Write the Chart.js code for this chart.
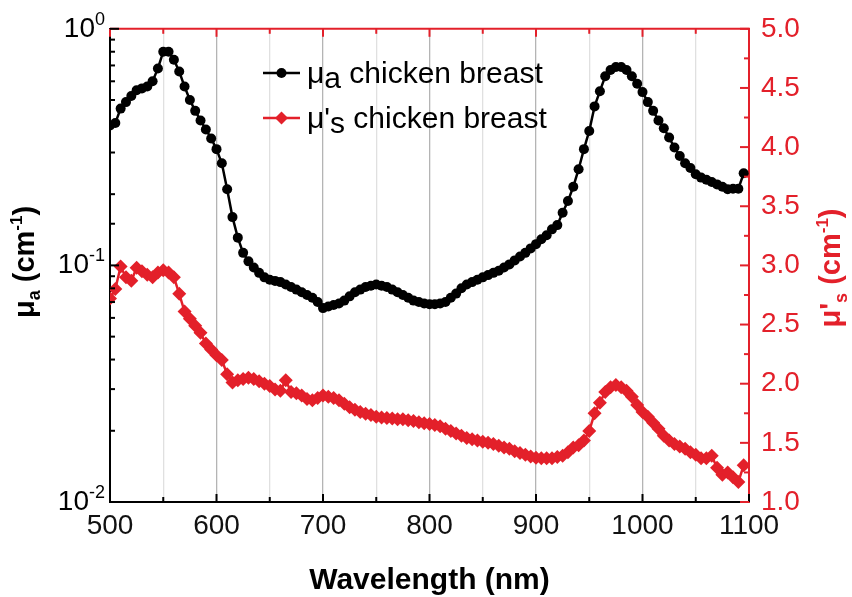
<!DOCTYPE html>
<html>
<head>
<meta charset="utf-8">
<script src="https://cdn.jsdelivr.net/npm/chart.js@4/dist/chart.umd.min.js"></script>
<style>
  body { margin: 0; background: #fff; }
  canvas { display: block; }
</style>
</head>
<body>
<canvas id="myChart" width="852" height="597"></canvas>
<script>
var wavelength = [500,505,510,515,520,525,530,535,540,545,550,555,560,565,570,575,580,585,590,595,
  600,605,610,615,620,625,630,635,640,645,650,655,660,665,670,675,680,685,690,695,
  700,705,710,715,720,725,730,735,740,745,750,755,760,765,770,775,780,785,790,795,
  800,805,810,815,820,825,830,835,840,845,850,855,860,865,870,875,880,885,890,895,
  900,905,910,915,920,925,930,935,940,945,950,955,960,965,970,975,980,985,990,995,
  1000,1005,1010,1015,1020,1025,1030,1035,1040,1045,1050,1055,1060,1065,1070,1075,1080,1085,1090,1095];

// absorption coefficient, cm-1 (left, log axis)
var muA = [0.39,0.40,0.46,0.49,0.52,0.55,0.56,0.57,0.60,0.68,0.80,0.80,0.74,0.66,0.57,0.50,0.45,0.41,0.375,0.344,
  0.31,0.27,0.21,0.16,0.131,0.113,0.104,0.098,0.093,0.089,0.087,0.086,0.085,0.083,0.081,0.079,0.077,0.075,0.073,0.070,
  0.066,0.067,0.068,0.069,0.071,0.074,0.077,0.079,0.081,0.082,0.083,0.082,0.081,0.079,0.077,0.075,0.073,0.071,0.070,0.069,
  0.0686,0.0686,0.069,0.070,0.073,0.076,0.080,0.083,0.085,0.087,0.089,0.091,0.093,0.095,0.098,0.101,0.105,0.109,0.113,0.118,
  0.123,0.129,0.134,0.142,0.148,0.167,0.187,0.215,0.255,0.31,0.37,0.47,0.545,0.63,0.67,0.69,0.69,0.67,0.63,0.586,
  0.54,0.49,0.45,0.41,0.38,0.347,0.315,0.29,0.27,0.258,0.243,0.235,0.23,0.225,0.22,0.215,0.21,0.211,0.211,0.245];

// reduced scattering coefficient, cm-1 (right axis)
var muS = [2.72,2.80,2.99,2.90,2.87,2.98,2.95,2.92,2.90,2.94,2.96,2.94,2.90,2.76,2.61,2.55,2.49,2.43,2.34,2.29,
  2.24,2.20,2.08,2.01,2.03,2.04,2.05,2.04,2.02,2.00,1.98,1.95,1.94,2.03,1.93,1.92,1.90,1.87,1.86,1.88,
  1.90,1.89,1.88,1.86,1.83,1.80,1.78,1.76,1.745,1.735,1.72,1.715,1.71,1.705,1.70,1.70,1.69,1.685,1.675,1.665,
  1.66,1.65,1.64,1.62,1.60,1.58,1.56,1.54,1.53,1.52,1.51,1.50,1.49,1.475,1.46,1.45,1.43,1.415,1.40,1.385,
  1.375,1.37,1.37,1.37,1.38,1.39,1.42,1.46,1.48,1.52,1.60,1.75,1.84,1.93,1.97,1.99,1.97,1.94,1.89,1.82,
  1.76,1.72,1.67,1.62,1.56,1.52,1.49,1.47,1.45,1.42,1.40,1.37,1.37,1.39,1.29,1.23,1.25,1.21,1.17,1.31];

var muATicks = [1, 0.1, 0.01];
var muAExp = ['0', '-1', '-2'];

var RED = '#e3202a';
var FONT = "'Liberation Sans', Arial, sans-serif";

function rich(ctx, segs, x, y, align)
{
    var w = 0;
    segs.forEach(function(s) {
        ctx.font = s[2] + ' ' + s[1] + 'px ' + FONT;
        w += ctx.measureText(s[0]).width;
    });
    var cx = align == 'center' ? x - w/2 : (align == 'right' ? x - w : x);
    segs.forEach(function(s) {
        ctx.font = s[2] + ' ' + s[1] + 'px ' + FONT;
        ctx.fillText(s[0], cx, y + s[3]);
        cx += ctx.measureText(s[0]).width;
    });
}

function seg(ctx, x1, y1, x2, y2, col, lw)
{
    ctx.strokeStyle = col;
    ctx.lineWidth = lw || 2;
    ctx.beginPath();
    ctx.moveTo(x1, y1);
    ctx.lineTo(x2, y2);
    ctx.stroke();
}

var decor = {
    id: 'decor',
    afterDraw: function(chart)
    {
        var ctx = chart.ctx, a = chart.chartArea;
        var x = chart.scales.x, y = chart.scales.y, y2 = chart.scales.y2;
        ctx.save();
        ctx.textBaseline = 'alphabetic';
        ctx.textAlign = 'left';

        // top frame line is red
        seg(ctx, a.left, a.top, a.right + 1, a.top, RED, 2);

        // inward ticks
        x.ticks.forEach(function(t) {
            var px = x.getPixelForValue(t.value);
            var len = t.value % 100 == 0 ? 8 : 5;
            seg(ctx, px, a.bottom, px, a.bottom - len, '#000', 2);
            seg(ctx, px, a.top, px, a.top + len, RED, 2);
        });
        y.ticks.forEach(function(t) {
            var py = y.getPixelForValue(t.value);
            var l = Math.log10(t.value);
            var major = Math.abs(l - Math.round(l)) < 1e-6;
            seg(ctx, a.left, py, a.left + (major ? 9 : 5), py, '#000', 2);
        });
        y2.ticks.forEach(function(t) {
            var py = y2.getPixelForValue(t.value);
            var major = Math.abs(t.value*2 - Math.round(t.value*2)) < 1e-6;
            seg(ctx, a.right, py, a.right - (major ? 9 : 5), py, RED, 2);
        });

        // left tick labels 10^n
        ctx.fillStyle = '#000';
        muATicks.forEach(function(v, i) {
            var py = y.getPixelForValue(v);
            rich(ctx, [['10', 28, 'normal', 0], [muAExp[i], 18, 'normal', -12]], 105, py + 8, 'right');
        });

        // axis titles
        ctx.fillStyle = '#000';
        rich(ctx, [['Wavelength (nm)', 30, 'bold', 0]], (a.left + a.right)/2, 589, 'center');

        ctx.save();
        ctx.translate(14, 262);
        ctx.rotate(-Math.PI/2);
        rich(ctx, [['\u03bc', 29, 'bold', 0], ['a', 18, 'bold', 6], [' (cm', 29, 'bold', 0],
                   ['-1', 17, 'bold', -12], [')', 29, 'bold', 0]], 0, 20, 'center');
        ctx.restore();

        ctx.save();
        ctx.fillStyle = RED;
        ctx.translate(820, 268);
        ctx.rotate(-Math.PI/2);
        rich(ctx, [['\u03bc', 29, 'bold', 0], ["'", 29, 'bold', 0], ['s', 18, 'bold', 7], [' (cm', 29, 'bold', 0],
                   ['-1', 17, 'bold', -12], [')', 29, 'bold', 0]], 0, 20, 'center');
        ctx.restore();

        // legend
        var ly = [73, 118];
        seg(ctx, 263, ly[0], 300, ly[0], '#000', 2.5);
        ctx.fillStyle = '#000';
        ctx.beginPath(); ctx.arc(281.5, ly[0], 5, 0, Math.PI*2); ctx.fill();
        rich(ctx, [['\u03bc', 30, 'normal', 0], ['a', 30, 'normal', 5], [' chicken breast', 30, 'normal', 0]], 307, ly[0] + 10, 'left');

        seg(ctx, 263, ly[1], 300, ly[1], RED, 2.5);
        ctx.fillStyle = RED;
        ctx.beginPath();
        ctx.moveTo(281.5, ly[1] - 6.5); ctx.lineTo(288, ly[1]); ctx.lineTo(281.5, ly[1] + 6.5); ctx.lineTo(275, ly[1]);
        ctx.closePath(); ctx.fill();
        ctx.fillStyle = '#000';
        rich(ctx, [['\u03bc', 30, 'normal', 0], ["'", 30, 'normal', 0], ['s', 30, 'normal', 5], [' chicken breast', 30, 'normal', 0]], 307, ly[1] + 10, 'left');

        ctx.restore();
    }
};

var canvas = document.getElementById('myChart');
var myChart = new Chart(canvas.getContext('2d'),
{
    type: 'line',
    data:
    {
        datasets:
        [{
            label: '\u03bca chicken breast',
            data: wavelength.map(function(w, i) { return {x: w, y: muA[i]}; }),
            yAxisID: 'y',
            borderColor: '#000',
            backgroundColor: '#000',
            borderWidth: 2.5,
            pointStyle: 'circle',
            pointRadius: 5,
            pointBorderWidth: 0,
            tension: 0
        },
        {
            label: "\u03bc's chicken breast",
            data: wavelength.map(function(w, i) { return {x: w, y: muS[i]}; }),
            yAxisID: 'y2',
            borderColor: RED,
            backgroundColor: RED,
            borderWidth: 2.5,
            pointStyle: 'rectRot',
            pointRadius: 7,
            pointBorderWidth: 0,
            tension: 0
        }]
    },
    options:
    {
        responsive: false,
        animation: false,
        layout: {padding: {top: 25, left: 0, right: 0, bottom: 0}},
        plugins: {legend: {display: false}, tooltip: {enabled: false}, title: {display: false}},
        scales:
        {
            x: {
                type: 'linear', min: 500, max: 1100,
                afterFit: function(s) { s.height = 95; },
                ticks: {
                    stepSize: 50, autoSkip: false, maxRotation: 0, padding: 7,
                    color: '#111', font: {family: FONT, size: 28},
                    callback: function(v) { return v % 100 == 0 ? String(v) : ''; }
                },
                grid: {
                    drawTicks: false, lineWidth: 1.3,
                    color: function(c) { return c.tick && c.tick.value % 100 == 0 ? '#b4b4b4' : '#e0e0e0'; }
                },
                border: {color: '#000', width: 2}
            },
            y: {
                type: 'logarithmic', position: 'left', min: 0.01, max: 1,
                afterFit: function(s) { s.width = 110; },
                ticks: {callback: function() { return ''; }},
                grid: {display: false, drawTicks: false},
                border: {color: '#000', width: 2}
            },
            y2: {
                type: 'linear', position: 'right', min: 1, max: 5,
                afterFit: function(s) { s.width = 103; },
                ticks: {
                    stepSize: 0.25, autoSkip: false, padding: 12,
                    color: RED, font: {family: FONT, size: 28},
                    callback: function(v) { return Math.abs(v*2 - Math.round(v*2)) < 1e-6 ? v.toFixed(1) : ''; }
                },
                grid: {display: false, drawTicks: false},
                border: {color: RED, width: 2}
            }
        }
    },
    plugins: [decor]
});
</script>
</body>
</html>
